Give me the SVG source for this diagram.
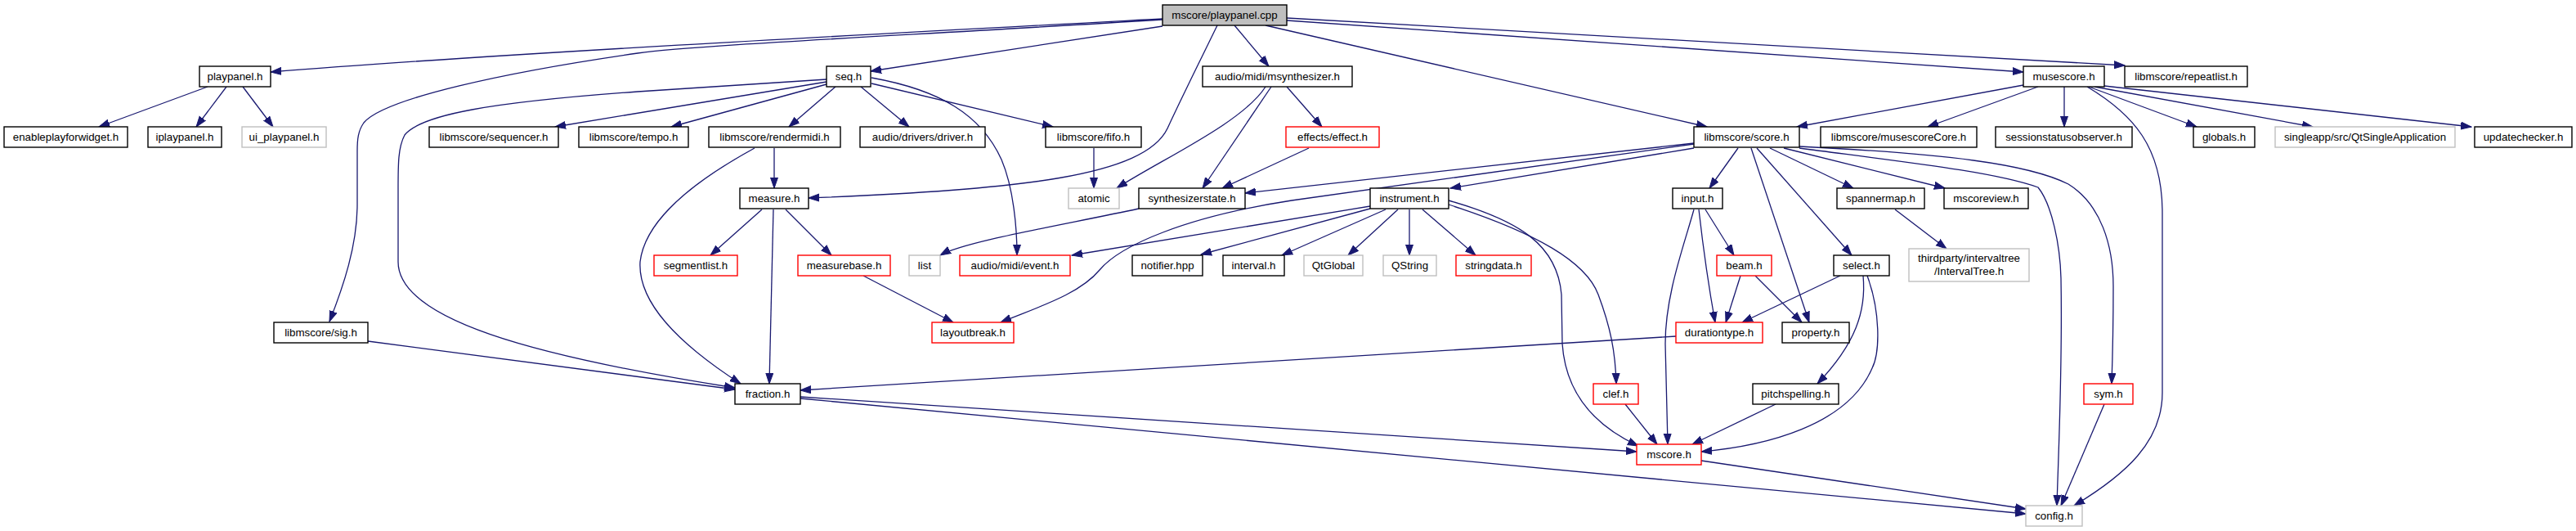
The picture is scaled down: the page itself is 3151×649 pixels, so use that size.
<svg xmlns="http://www.w3.org/2000/svg" width="3151" height="649" viewBox="0 0 3151 649">
<style>
.n rect{fill:#fff;stroke:#000;stroke-width:1.4}
.n.g rect{stroke:#bfbfbf}
.n.r rect{stroke:#ff0000}
.n.root rect{fill:#bfbfbf}
text{font-family:"Liberation Sans",Arial,sans-serif;font-size:13.3px;fill:#000;text-anchor:middle}
.e path{fill:none;stroke:#191970;stroke-width:1.3;marker-end:url(#a)}
</style>
<defs>
<marker id="a" markerUnits="userSpaceOnUse" markerWidth="14" markerHeight="11" refX="13" refY="5" orient="auto">
<path d="M0,0.5 L13,5 L0,9.5 z" fill="#191970" stroke="#191970" stroke-width="1"/>
</marker>
</defs>
<rect width="3151" height="649" fill="#fff"/>
<g id="edges" class="e">
<path d="M1422,23 C1100,40 600,66 331,88"/>
<path d="M1422,24 C1100,44 850,55 780,65 C620,88 470,120 445,150 C438,160 437,170 437,185 L437,250 C437,300 420,350 403,393"/>
<path d="M1422,32 L1065,87"/>
<path d="M1489,31 C1470,70 1445,120 1428,157 C1400,215 1250,232 989,242"/>
<path d="M1510,31 L1552,81"/>
<path d="M1548,31 L2088,155"/>
<path d="M1574,25 L2475,88"/>
<path d="M1574,22 L2599,80"/>
<path d="M254,106 L121,155"/>
<path d="M277,106 L240,155"/>
<path d="M297,106 L334,155"/>
<path d="M1011,100 L679,155"/>
<path d="M1011,103 L821,155"/>
<path d="M1022,106 L965,155"/>
<path d="M1053,106 L1112,155"/>
<path d="M1066,102 L1288,155"/>
<path d="M1066,95 C1150,110 1200,140 1225,195 C1240,230 1244,280 1244,312"/>
<path d="M1011,97 L780,112 C600,125 515,140 495,165 C487,180 487,200 487,230 L487,320 C487,390 650,435 899,474"/>
<path d="M450,417 L899,476"/>
<path d="M1548,106 C1520,150 1420,195 1366,230"/>
<path d="M1555,106 L1471,230"/>
<path d="M1574,106 L1617,155"/>
<path d="M1601,181 L1495,230"/>
<path d="M1338,181 L1338,230"/>
<path d="M947,181 L947,230"/>
<path d="M923,181 C870,210 790,260 783,320 C780,370 830,420 906,469"/>
<path d="M932,256 L869,312"/>
<path d="M961,256 L1017,312"/>
<path d="M946,256 L941,469"/>
<path d="M1056,337 L1166,394"/>
<path d="M1393,255 C1300,275 1180,295 1150,312"/>
<path d="M2072,175 L1523,236"/>
<path d="M2072,176 L1580,245 C1450,265 1370,300 1345,330 C1320,360 1270,375 1224,394"/>
<path d="M2072,181 L1774,230"/>
<path d="M1676,252 L1311,312"/>
<path d="M1676,255 L1469,311"/>
<path d="M1695,256 L1568,312"/>
<path d="M1710,256 L1649,312"/>
<path d="M1724,256 L1724,312"/>
<path d="M1740,256 L1805,312"/>
<path d="M1772,245 C1860,270 1905,300 1910,360 L1911,420 C1915,480 1950,520 2004,545"/>
<path d="M1772,250 C1880,285 1940,320 1955,360 C1970,400 1976,430 1977,469"/>
<path d="M1988,494 L2027,543"/>
<path d="M2126,181 L2091,230"/>
<path d="M2142,181 L2213,394"/>
<path d="M2149,181 L2265,312"/>
<path d="M2165,181 L2267,230"/>
<path d="M2182,181 L2379,230"/>
<path d="M2201,179 C2380,188 2480,200 2530,225 C2570,250 2585,300 2585,350 C2585,400 2584,440 2583,469"/>
<path d="M2201,181 C2330,198 2440,210 2493,229 C2510,250 2520,300 2521,340 C2523,450 2518,550 2516,618"/>
<path d="M2318,256 L2381,304"/>
<path d="M2072,256 C2060,300 2037,360 2037,420 L2040,543"/>
<path d="M2078,256 C2083,300 2090,350 2098,394"/>
<path d="M2086,256 L2121,312"/>
<path d="M2129,337 L2111,394"/>
<path d="M2147,337 L2204,394"/>
<path d="M2251,337 L2131,394"/>
<path d="M2279,337 C2283,380 2270,420 2223,469"/>
<path d="M2284,337 C2300,380 2300,430 2290,450 C2260,520 2160,545 2081,552"/>
<path d="M2172,494 L2070,543"/>
<path d="M2050,411 L979,477"/>
<path d="M979,485 L2002,552"/>
<path d="M979,487 L2478,628"/>
<path d="M2081,563 L2478,622"/>
<path d="M2574,494 L2521,618"/>
<path d="M2553,106 C2610,140 2645,180 2645,260 L2645,480 C2645,540 2600,580 2537,618"/>
<path d="M2475,104 L2198,155"/>
<path d="M2493,106 L2358,155"/>
<path d="M2525,106 L2525,155"/>
<path d="M2555,106 L2687,155"/>
<path d="M2562,106 L2829,155"/>
<path d="M2574,105 L3023,155"/>
</g>
<g id="root" class="n root"><rect x="1422" y="6" width="152" height="25"/><text x="1498" y="23">mscore/playpanel.cpp</text></g>
<g id="playpanel_h" class="n"><rect x="244" y="81" width="87" height="25"/><text x="287.5" y="98">playpanel.h</text></g>
<g id="seq_h" class="n"><rect x="1011" y="81" width="54" height="25"/><text x="1038" y="98">seq.h</text></g>
<g id="msynthesizer_h" class="n"><rect x="1471" y="81" width="183" height="25"/><text x="1562.5" y="98">audio/midi/msynthesizer.h</text></g>
<g id="musescore_h" class="n"><rect x="2475" y="81" width="99" height="25"/><text x="2524.5" y="98">musescore.h</text></g>
<g id="repeatlist_h" class="n"><rect x="2599" y="81" width="150" height="25"/><text x="2674" y="98">libmscore/repeatlist.h</text></g>
<g id="enableplayforwidget_h" class="n"><rect x="5" y="155" width="151" height="25"/><text x="80.5" y="172">enableplayforwidget.h</text></g>
<g id="iplaypanel_h" class="n"><rect x="181" y="155" width="90" height="25"/><text x="226" y="172">iplaypanel.h</text></g>
<g id="ui_playpanel_h" class="n g"><rect x="296" y="155" width="103" height="25"/><text x="347.5" y="172">ui_playpanel.h</text></g>
<g id="sequencer_h" class="n"><rect x="525" y="155" width="158" height="25"/><text x="604" y="172">libmscore/sequencer.h</text></g>
<g id="tempo_h" class="n"><rect x="708" y="155" width="134" height="25"/><text x="775" y="172">libmscore/tempo.h</text></g>
<g id="rendermidi_h" class="n"><rect x="867" y="155" width="161" height="25"/><text x="947.5" y="172">libmscore/rendermidi.h</text></g>
<g id="driver_h" class="n"><rect x="1052" y="155" width="153" height="25"/><text x="1128.5" y="172">audio/drivers/driver.h</text></g>
<g id="fifo_h" class="n"><rect x="1279" y="155" width="117" height="25"/><text x="1337.5" y="172">libmscore/fifo.h</text></g>
<g id="effect_h" class="n r"><rect x="1573" y="155" width="114" height="25"/><text x="1630" y="172">effects/effect.h</text></g>
<g id="score_h" class="n"><rect x="2072" y="155" width="129" height="25"/><text x="2136.5" y="172">libmscore/score.h</text></g>
<g id="musescoreCore_h" class="n"><rect x="2227" y="155" width="191" height="25"/><text x="2322.5" y="172">libmscore/musescoreCore.h</text></g>
<g id="sessionstatusobserver_h" class="n"><rect x="2441" y="155" width="167" height="25"/><text x="2524.5" y="172">sessionstatusobserver.h</text></g>
<g id="globals_h" class="n"><rect x="2683" y="155" width="75" height="25"/><text x="2720.5" y="172">globals.h</text></g>
<g id="qtsingleapplication" class="n g"><rect x="2783" y="155" width="220" height="25"/><text x="2893" y="172">singleapp/src/QtSingleApplication</text></g>
<g id="updatechecker_h" class="n"><rect x="3027" y="155" width="119" height="25"/><text x="3086.5" y="172">updatechecker.h</text></g>
<g id="measure_h" class="n"><rect x="905" y="230" width="84" height="25"/><text x="947" y="247">measure.h</text></g>
<g id="atomic" class="n g"><rect x="1307" y="230" width="62" height="25"/><text x="1338" y="247">atomic</text></g>
<g id="synthesizerstate_h" class="n"><rect x="1393" y="230" width="130" height="25"/><text x="1458" y="247">synthesizerstate.h</text></g>
<g id="instrument_h" class="n"><rect x="1676" y="230" width="96" height="25"/><text x="1724" y="247">instrument.h</text></g>
<g id="input_h" class="n"><rect x="2046" y="230" width="61" height="25"/><text x="2076.5" y="247">input.h</text></g>
<g id="spannermap_h" class="n"><rect x="2247" y="230" width="107" height="25"/><text x="2300.5" y="247">spannermap.h</text></g>
<g id="mscoreview_h" class="n"><rect x="2378" y="230" width="103" height="25"/><text x="2429.5" y="247">mscoreview.h</text></g>
<g id="segmentlist_h" class="n r"><rect x="800" y="312" width="102" height="25"/><text x="851" y="329">segmentlist.h</text></g>
<g id="measurebase_h" class="n r"><rect x="976" y="312" width="113" height="25"/><text x="1032.5" y="329">measurebase.h</text></g>
<g id="list" class="n g"><rect x="1112" y="312" width="38" height="25"/><text x="1131" y="329">list</text></g>
<g id="event_h" class="n r"><rect x="1174" y="312" width="135" height="25"/><text x="1241.5" y="329">audio/midi/event.h</text></g>
<g id="notifier_hpp" class="n"><rect x="1385" y="312" width="86" height="25"/><text x="1428" y="329">notifier.hpp</text></g>
<g id="interval_h" class="n"><rect x="1496" y="312" width="75" height="25"/><text x="1533.5" y="329">interval.h</text></g>
<g id="qtglobal" class="n g"><rect x="1595" y="312" width="72" height="25"/><text x="1631" y="329">QtGlobal</text></g>
<g id="qstring" class="n g"><rect x="1692" y="312" width="65" height="25"/><text x="1724.5" y="329">QString</text></g>
<g id="stringdata_h" class="n r"><rect x="1781" y="312" width="92" height="25"/><text x="1827" y="329">stringdata.h</text></g>
<g id="beam_h" class="n r"><rect x="2100" y="312" width="67" height="25"/><text x="2133.5" y="329">beam.h</text></g>
<g id="select_h" class="n"><rect x="2243" y="312" width="68" height="25"/><text x="2277" y="329">select.h</text></g>
<g id="intervaltree_h" class="n g"><rect x="2335" y="304" width="147" height="40"/><text x="2408.5" y="320">thirdparty/intervaltree</text><text x="2408.5" y="336">/IntervalTree.h</text></g>
<g id="sig_h" class="n"><rect x="335" y="394" width="115" height="25"/><text x="392.5" y="411">libmscore/sig.h</text></g>
<g id="layoutbreak_h" class="n r"><rect x="1140" y="394" width="100" height="25"/><text x="1190" y="411">layoutbreak.h</text></g>
<g id="durationtype_h" class="n r"><rect x="2050" y="394" width="106" height="25"/><text x="2103" y="411">durationtype.h</text></g>
<g id="property_h" class="n"><rect x="2180" y="394" width="82" height="25"/><text x="2221" y="411">property.h</text></g>
<g id="fraction_h" class="n"><rect x="899" y="469" width="80" height="25"/><text x="939" y="486">fraction.h</text></g>
<g id="clef_h" class="n r"><rect x="1949" y="469" width="55" height="25"/><text x="1976.5" y="486">clef.h</text></g>
<g id="pitchspelling_h" class="n"><rect x="2144" y="469" width="105" height="25"/><text x="2196.5" y="486">pitchspelling.h</text></g>
<g id="sym_h" class="n r"><rect x="2549" y="469" width="60" height="25"/><text x="2579" y="486">sym.h</text></g>
<g id="mscore_h" class="n r"><rect x="2002" y="543" width="79" height="25"/><text x="2041.5" y="560">mscore.h</text></g>
<g id="config_h" class="n g"><rect x="2478" y="618" width="69" height="25"/><text x="2512.5" y="635">config.h</text></g>
</svg>
